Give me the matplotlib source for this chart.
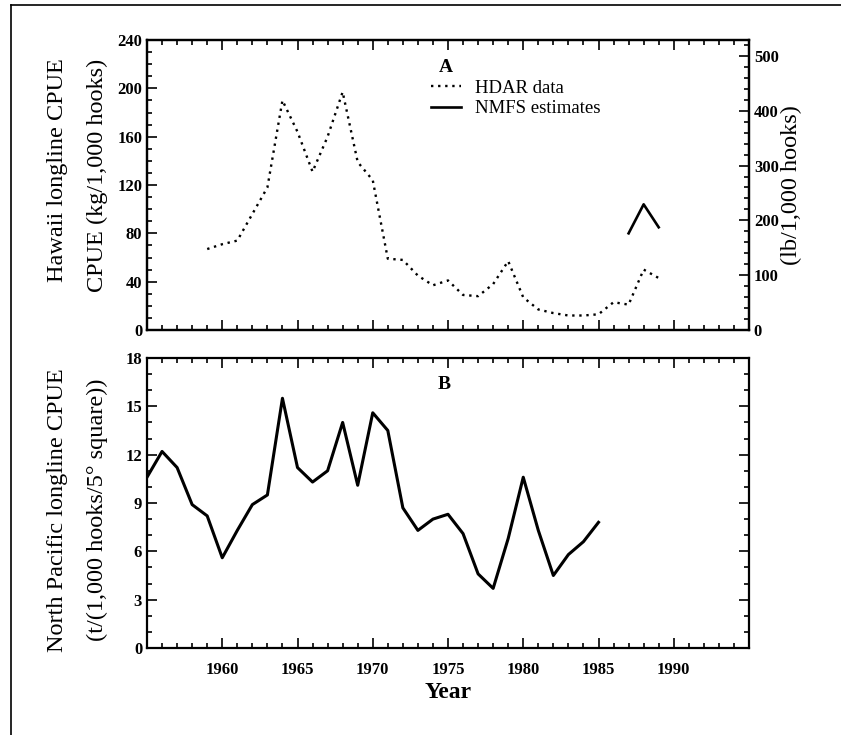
import matplotlib
matplotlib.use("Agg")
import matplotlib.pyplot as plt
from matplotlib.lines import Line2D
from matplotlib.ticker import MultipleLocator

plt.rcParams['font.family'] = ['Liberation Serif', 'DejaVu Serif']

# Panel A: Hawaii longline CPUE (kg/1,000 hooks)
hdar_years = list(range(1959, 1990))
hdar_cpue = [67, 71, 74, 96, 118, 190, 164, 131, 160, 197,
             139, 124, 59, 58, 45, 37, 41, 29, 28, 38,
             57, 27, 17, 14, 12, 12, 13, 23, 21, 50, 43]
nmfs_years = [1987, 1988, 1989]
nmfs_cpue = [80, 104, 85]

# Panel B: North Pacific longline CPUE
np_years = list(range(1955, 1986))
np_cpue = [10.6, 12.2, 11.2, 8.9, 8.2, 5.6, 7.3, 8.9, 9.5, 15.5,
           11.2, 10.3, 11.0, 14.0, 10.1, 14.6, 13.5, 8.7, 7.3, 8.0,
           8.3, 7.1, 4.6, 3.7, 6.8, 10.6, 7.3, 4.5, 5.8, 6.6, 7.8]

x_ticks = [1960, 1965, 1970, 1975, 1980, 1985, 1990]
KG_TO_LB = 2.2046

W, H = 841, 735
fig = plt.figure(figsize=(W / 100, H / 100), dpi=100)

def box(l, t, r, b):
    return [l / W, 1 - b / H, (r - l) / W, (b - t) / H]

def style(ax):
    for s in ax.spines.values():
        s.set_linewidth(1.6)
    ax.tick_params(which='both', direction='in', width=1.2, labelsize=12)
    ax.tick_params(which='major', length=7)
    ax.tick_params(which='minor', length=3.5)
    for lab in ax.get_xticklabels() + ax.get_yticklabels():
        lab.set_fontweight('bold')

# top panel
axA = fig.add_axes(box(147, 40, 749, 330))
axA.plot(hdar_years, hdar_cpue, color='black', lw=1.7, linestyle=(0, (1, 2)),
         label='HDAR data')
axA.plot(nmfs_years, nmfs_cpue, color='black', lw=1.9, label='NMFS estimates')
axA.set_xlim(1955, 1995)
axA.set_ylim(0, 240)
axA.set_xticks(x_ticks)
axA.xaxis.set_minor_locator(MultipleLocator(1))
axA.yaxis.set_major_locator(MultipleLocator(40))
axA.yaxis.set_minor_locator(MultipleLocator(10))
axA.tick_params(which='both', top=True, labelbottom=False)
style(axA)

axA2 = axA.twinx()
axA2.set_ylim(0, 240 * KG_TO_LB)
axA2.yaxis.set_major_locator(MultipleLocator(100))
axA2.yaxis.set_minor_locator(MultipleLocator(20))
style(axA2)

axA.text(0.497, 0.905, 'A', transform=axA.transAxes, fontsize=14,
         fontweight='bold', ha='center', va='center')
axA.legend(loc='upper left', bbox_to_anchor=(0.46, 0.89), frameon=False,
           fontsize=13.5, handlelength=1.6, handletextpad=0.7,
           labelspacing=0.2, borderaxespad=0)

# bottom panel
axB = fig.add_axes(box(147, 358, 749, 648))
axB.plot(np_years, np_cpue, color='black', lw=2.2)
axB.set_xlim(1955, 1995)
axB.set_ylim(0, 18)
axB.set_xticks(x_ticks)
axB.xaxis.set_minor_locator(MultipleLocator(1))
axB.yaxis.set_major_locator(MultipleLocator(3))
axB.yaxis.set_minor_locator(MultipleLocator(1))
axB.tick_params(which='both', top=True, right=True)
axB.tick_params(axis='x', pad=10)
style(axB)
axB.text(0.493, 0.91, 'B', transform=axB.transAxes, fontsize=14,
         fontweight='bold', ha='center', va='center')

# axis titles
fig.text(57 / W, 1 - 170 / H, 'Hawaii longline CPUE', rotation=90,
         ha='center', va='center', fontsize=17.5)
fig.text(97 / W, 1 - 175 / H, 'CPUE (kg/1,000 hooks)', rotation=90,
         ha='center', va='center', fontsize=17.5)
fig.text(791 / W, 1 - 185 / H, '(lb/1,000 hooks)', rotation=90,
         ha='center', va='center', fontsize=17.5)
fig.text(57 / W, 1 - 510 / H, 'North Pacific longline CPUE', rotation=90,
         ha='center', va='center', fontsize=17.5)
fig.text(97 / W, 1 - 510 / H, '(t/(1,000 hooks/5\u00b0 square))', rotation=90,
         ha='center', va='center', fontsize=17.5)
fig.text(448 / W, 1 - 692 / H, 'Year', ha='center', va='center',
         fontsize=17, fontweight='bold')

# page frame (top and left edge)
fig.add_artist(Line2D([11 / W, 11 / W], [0, 1 - 5 / H], color='black', lw=1.2))
fig.add_artist(Line2D([11 / W, 1], [1 - 5 / H, 1 - 5 / H], color='black', lw=1.2))

fig.savefig('out.png', dpi=100)
